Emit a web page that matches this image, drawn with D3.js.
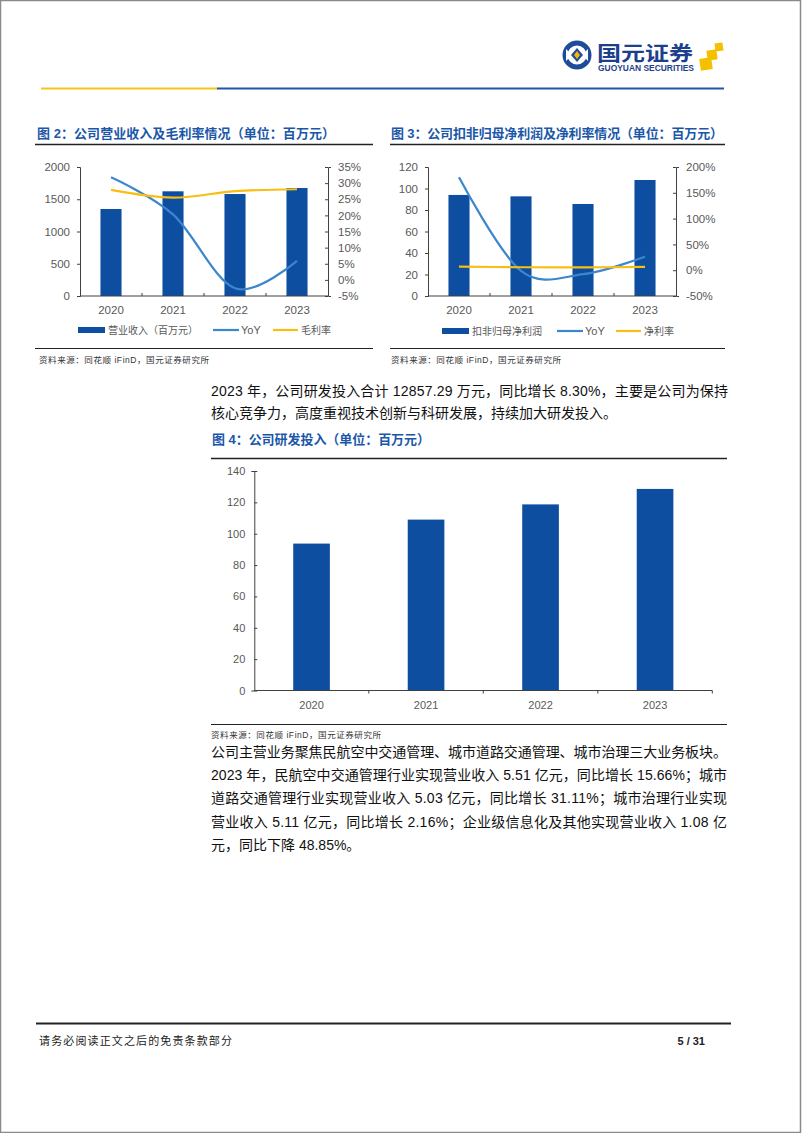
<!DOCTYPE html>
<html><head><meta charset="utf-8">
<script src="https://cdn.jsdelivr.net/npm/d3@7"></script>
<style>
body{margin:0;background:#fff}
svg{display:block}
text{font-family:"Liberation Sans",Arial,"Noto Sans CJK SC",sans-serif}
</style>
</head><body><svg id="c" width="802" height="1133"></svg>
<script>
// ---------- data ----------
const years = ["2020","2021","2022","2023"];
// Fig 2
const revenue = [1349,1623,1581,1674];
const revenueYoY = [31.8,20.3,-2.6,5.9];
const grossMargin = [27.9,25.5,27.5,28.1];
const fig2LeftTicks = [0,500,1000,1500,2000];
const fig2RightTicks = [-5,0,5,10,15,20,25,30,35];
// Fig 3
const netProfit = [94.0,92.7,85.6,107.9];
const netProfitYoY = [180,-1.4,-7.7,26.0];
const netMargin = [7.0,5.7,5.4,6.4];
const fig3LeftTicks = [0,20,40,60,80,100,120];
const fig3RightTicks = [-50,0,50,100,150,200];
// Fig 4
const rdInvest = [93.7,109.0,118.7,128.57];
const fig4Ticks = [0,20,40,60,80,100,120,140];

const BAR="#0d4ea0", YOY="#3b86cc", GOLD="#f8be14", AX="#404040", LBL="#595959", TITLE="#1b57a8";

const svg = d3.select("#c");

// page border
svg.append("rect").attr("x",0.5).attr("y",0.5).attr("width",800).attr("height",1132)
  .attr("fill","none").attr("stroke","#8a8a8a").attr("stroke-width",1.5);

// ---------- header ----------
const lg = svg.append("g");
lg.append("circle").attr("cx",577).attr("cy",55).attr("r",12).attr("fill","none").attr("stroke","#1d4c9a").attr("stroke-width",5);
lg.append("path").attr("d","M566,49 L572,55 L566,61 Z").attr("fill","#fff");
lg.append("path").attr("d","M588,49 L582,55 L588,61 Z").attr("fill","#fff");
lg.append("path").attr("d","M577,48 L583,55 L577,62 L571,55 Z").attr("fill","#1d4c9a");
lg.append("path").attr("d","M577,51 L580,55 L577,59 L574,55 Z").attr("fill","#f2b705");
lg.append("text").attr("x",597).attr("y",61).attr("font-size",20).attr("font-weight","bold")
  .attr("fill","#1d3f8c").attr("textLength",96).attr("lengthAdjust","spacingAndGlyphs").text("国元证券");
lg.append("text").attr("x",598).attr("y",71).attr("font-size",8.5).attr("font-weight","bold")
  .attr("fill","#1d3f8c").attr("textLength",96).attr("lengthAdjust","spacingAndGlyphs").text("GUOYUAN SECURITIES");
[[715,43,8],[707,50,10],[700,58,12]].forEach(s=>{
  lg.append("rect").attr("x",s[0]).attr("y",s[1]).attr("width",s[2]).attr("height",s[2])
    .attr("fill","#f4c000").attr("transform",`rotate(-8 ${s[0]+s[2]/2} ${s[1]+s[2]/2})`);
});
svg.append("line").attr("x1",41).attr("x2",217).attr("y1",88.5).attr("y2",88.5).attr("stroke","#f6c51d").attr("stroke-width",2);
svg.append("line").attr("x1",217).attr("x2",724).attr("y1",88.5).attr("y2",88.5).attr("stroke","#1f56a6").attr("stroke-width",2);

// ---------- helpers ----------
function title(x,y,w,txt){
  svg.append("text").attr("x",x).attr("y",y).attr("font-size",13).attr("font-weight","bold")
    .attr("fill",TITLE).attr("textLength",w).attr("lengthAdjust","spacing").text(txt);
}
function hline(x1,x2,y,w,c){
  svg.append("line").attr("x1",x1).attr("x2",x2).attr("y1",y).attr("y2",y).attr("stroke",c||"#222").attr("stroke-width",w||1.3);
}
function source(x,y){
  svg.append("text").attr("x",x).attr("y",y).attr("font-size",8.5).attr("fill","#333")
    .attr("textLength",170).attr("lengthAdjust","spacing").text("资料来源：同花顺 iFinD，国元证券研究所");
}
function styleAxis(g){
  g.select(".domain").attr("stroke",AX);
  g.selectAll(".tick line").attr("stroke",AX);
  g.selectAll(".tick text").attr("fill",LBL).attr("font-family","Liberation Sans, Arial, sans-serif");
}

function combo(o){
  const g = svg.append("g");
  const x = d3.scaleBand().domain(years).range([o.x0,o.x1]).paddingInner(o.pad).paddingOuter(o.pad/2);
  const yL = d3.scaleLinear().domain(o.leftDomain).range([o.yB,o.yT]);
  const yR = d3.scaleLinear().domain(o.rightDomain).range([o.yB,o.yT]);
  g.selectAll(".bar").data(o.bars).join("rect")
    .attr("x",(d,i)=>x(years[i])).attr("width",x.bandwidth())
    .attr("y",d=>yL(d)).attr("height",d=>yL(0)-yL(d)).attr("fill",BAR);
  const la = g.append("g").attr("transform",`translate(${o.x0},0)`)
    .call(d3.axisLeft(yL).tickValues(o.leftTicks).tickSize(3).tickPadding(7).tickFormat(d3.format("d")));
  la.attr("font-size",11.5); styleAxis(la);
  const ra = g.append("g").attr("transform",`translate(${o.x1},0)`)
    .call(d3.axisRight(yR).tickValues(o.rightTicks).tickSizeInner(-3).tickSizeOuter(3).tickPadding(10).tickFormat(d=>d+"%"));
  ra.attr("font-size",11.5); styleAxis(ra);
  g.append("line").attr("x1",o.x0).attr("x2",o.x1).attr("y1",yL(0)).attr("y2",yL(0)).attr("stroke",AX);
  years.forEach((yr,i)=>{ if(i>0){ const bx = o.x0 + i*x.step();
    g.append("line").attr("x1",bx).attr("x2",bx).attr("y1",yL(0)).attr("y2",yL(0)-3).attr("stroke",AX);} });
  g.selectAll(".xl").data(years).join("text").attr("x",d=>x(d)+x.bandwidth()/2).attr("y",o.yB+18)
    .attr("text-anchor","middle").attr("font-size",11.5).attr("fill",LBL).text(d=>d);
  const ln = d3.line().x((d,i)=>x(years[i])+x.bandwidth()/2).y(d=>yR(d)).curve(d3.curveCardinal.tension(0));
  g.append("path").attr("d",ln(o.yoy)).attr("fill","none").attr("stroke",YOY).attr("stroke-width",2.2);
  g.append("path").attr("d",ln(o.margin)).attr("fill","none").attr("stroke",GOLD).attr("stroke-width",2.2);
  const ly = o.legendY;
  g.append("rect").attr("x",o.leg[0]).attr("y",ly-3).attr("width",27).attr("height",6).attr("fill",BAR);
  g.append("text").attr("x",o.leg[0]+30).attr("y",ly+3.5).attr("font-size",10).attr("fill",LBL).text(o.barName);
  g.append("line").attr("x1",o.leg[1]).attr("x2",o.leg[1]+26).attr("y1",ly).attr("y2",ly).attr("stroke",YOY).attr("stroke-width",2.2);
  g.append("text").attr("x",o.leg[1]+28).attr("y",ly+4).attr("font-size",11).attr("fill",LBL).text("YoY");
  g.append("line").attr("x1",o.leg[2]).attr("x2",o.leg[2]+25).attr("y1",ly).attr("y2",ly).attr("stroke",GOLD).attr("stroke-width",2.2);
  g.append("text").attr("x",o.leg[2]+28).attr("y",ly+3.5).attr("font-size",10).attr("fill",LBL).text(o.marginName);
}

// ---------- Fig 2 ----------
title(37,138,298,"图 2：公司营业收入及毛利率情况（单位：百万元）");
hline(35,373,144.5);
combo({x0:80,x1:328,yT:167,yB:296,pad:0.66,leftDomain:[0,2000],rightDomain:[-5,35],
  leftTicks:fig2LeftTicks,rightTicks:fig2RightTicks,bars:revenue,yoy:revenueYoY,margin:grossMargin,
  legendY:330,leg:[78,213,273],barName:"营业收入（百万元）",marginName:"毛利率"});
hline(35,373,348.5,1.2);
source(39,363);

// ---------- Fig 3 ----------
title(391,138,332,"图 3：公司扣非归母净利润及净利率情况（单位：百万元）");
hline(390,725,144.5);
combo({x0:428,x1:676,yT:167,yB:296,pad:0.66,leftDomain:[0,120],rightDomain:[-50,200],
  leftTicks:fig3LeftTicks,rightTicks:fig3RightTicks,bars:netProfit,yoy:netProfitYoY,margin:netMargin,
  legendY:331,leg:[442,557,616],barName:"扣非归母净利润",marginName:"净利率"});
hline(390,725,348.5,1.2);
source(391,363);

// ---------- body text ----------
function para(lines,x,y0,lh,w){
  lines.forEach((t,i)=>{
    const tx = svg.append("text").attr("x",x).attr("y",y0+i*lh).attr("font-size",14).attr("fill","#111").text(t[0]);
    if(t[1]) tx.attr("textLength",w).attr("lengthAdjust","spacing");
  });
}
para([["2023 年，公司研发投入合计 12857.29 万元，同比增长 8.30%，主要是公司为保持",true],
      ["核心竞争力，高度重视技术创新与科研发展，持续加大研发投入。",false]],211,396,22,517);

// ---------- Fig 4 ----------
title(212,444,218,"图 4：公司研发投入（单位：百万元）");
hline(211,727,458.5);
(function(){
  const g = svg.append("g");
  const x0=254.3, x1=712.3, yT=471, yB=690.5;
  const x = d3.scaleBand().domain(years).range([x0,x1]).paddingInner(0.68).paddingOuter(0.34);
  const y = d3.scaleLinear().domain([0,140]).range([yB,yT]);
  g.selectAll(".bar").data(rdInvest).join("rect")
    .attr("x",(d,i)=>x(years[i])).attr("width",x.bandwidth())
    .attr("y",d=>y(d)).attr("height",d=>y(0)-y(d)).attr("fill",BAR);
  const la = g.append("g").attr("transform",`translate(${x0},0)`)
    .call(d3.axisLeft(y).tickValues(fig4Ticks).tickSizeInner(-3).tickSizeOuter(3).tickPadding(9));
  la.attr("font-size",11); styleAxis(la);
  g.append("line").attr("x1",x0).attr("x2",x1).attr("y1",yB).attr("y2",yB).attr("stroke",AX);
  years.forEach((yr,i)=>{ const bx = x0+(i+1)*x.step();
    g.append("line").attr("x1",bx).attr("x2",bx).attr("y1",yB).attr("y2",yB+3).attr("stroke",AX); });
  g.selectAll(".xl").data(years).join("text").attr("x",d=>x(d)+x.bandwidth()/2).attr("y",yB+18)
    .attr("text-anchor","middle").attr("font-size",11).attr("fill",LBL).text(d=>d);
})();
hline(211,727,724.5,1.2);
source(211,738);

para([["公司主营业务聚焦民航空中交通管理、城市道路交通管理、城市治理三大业务板块。",true],
      ["2023 年，民航空中交通管理行业实现营业收入 5.51 亿元，同比增长 15.66%；城市",true],
      ["道路交通管理行业实现营业收入 5.03 亿元，同比增长 31.11%；城市治理行业实现",true],
      ["营业收入 5.11 亿元，同比增长 2.16%；企业级信息化及其他实现营业收入 1.08 亿",true],
      ["元，同比下降 48.85%。",false]],211,757,23.2,516);

// ---------- footer ----------
hline(36,731,1023.5,2,"#222");
svg.append("text").attr("x",39).attr("y",1045).attr("font-size",11).attr("fill","#222")
  .attr("textLength",193).attr("lengthAdjust","spacing").text("请务必阅读正文之后的免责条款部分");
svg.append("text").attr("x",705).attr("y",1045).attr("font-size",11).attr("font-weight","bold").attr("fill","#222")
  .attr("text-anchor","end").text("5 / 31");
</script>
</body></html>
